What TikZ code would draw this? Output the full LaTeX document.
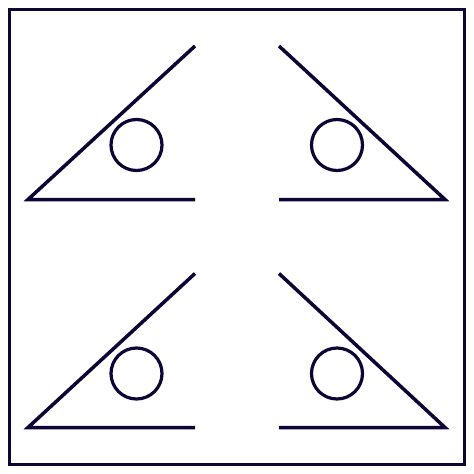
\documentclass[tikz,border=0pt]{standalone}
\definecolor{ink}{HTML}{0E0436}
\begin{document}
\begin{tikzpicture}[x=1pt,y=-1pt,
  frame/.style={draw=ink,line width=3.8pt},
  stroke/.style={draw=ink,line width=3.5pt},
  ring/.style={draw=ink,line width=3.2pt,circle,minimum size=51pt,inner sep=0pt}]
\useasboundingbox (0,0) rectangle (474,474);
\draw[frame] (9.5,9.5) rectangle (464.5,464.5);
% top-left
\coordinate (a1) at (28,199.5); \coordinate (b1) at (195,46); \coordinate (c1) at (195,199.5);
\draw[stroke] (b1) -- (a1) -- (c1);
\node[ring] (r1) at (136.5,145) {};
% top-right
\coordinate (a2) at (445,199.5); \coordinate (b2) at (279,46); \coordinate (c2) at (279,199.5);
\draw[stroke] (b2) -- (a2) -- (c2);
\node[ring] (r2) at (337,145) {};
% bottom-left
\coordinate (a3) at (28,427.5); \coordinate (b3) at (195,273.5); \coordinate (c3) at (195,427.5);
\draw[stroke] (b3) -- (a3) -- (c3);
\node[ring] (r3) at (136.5,373.5) {};
% bottom-right
\coordinate (a4) at (445,427.5); \coordinate (b4) at (279,273.5); \coordinate (c4) at (279,427.5);
\draw[stroke] (b4) -- (a4) -- (c4);
\node[ring] (r4) at (337,373.5) {};
\end{tikzpicture}
\end{document}
